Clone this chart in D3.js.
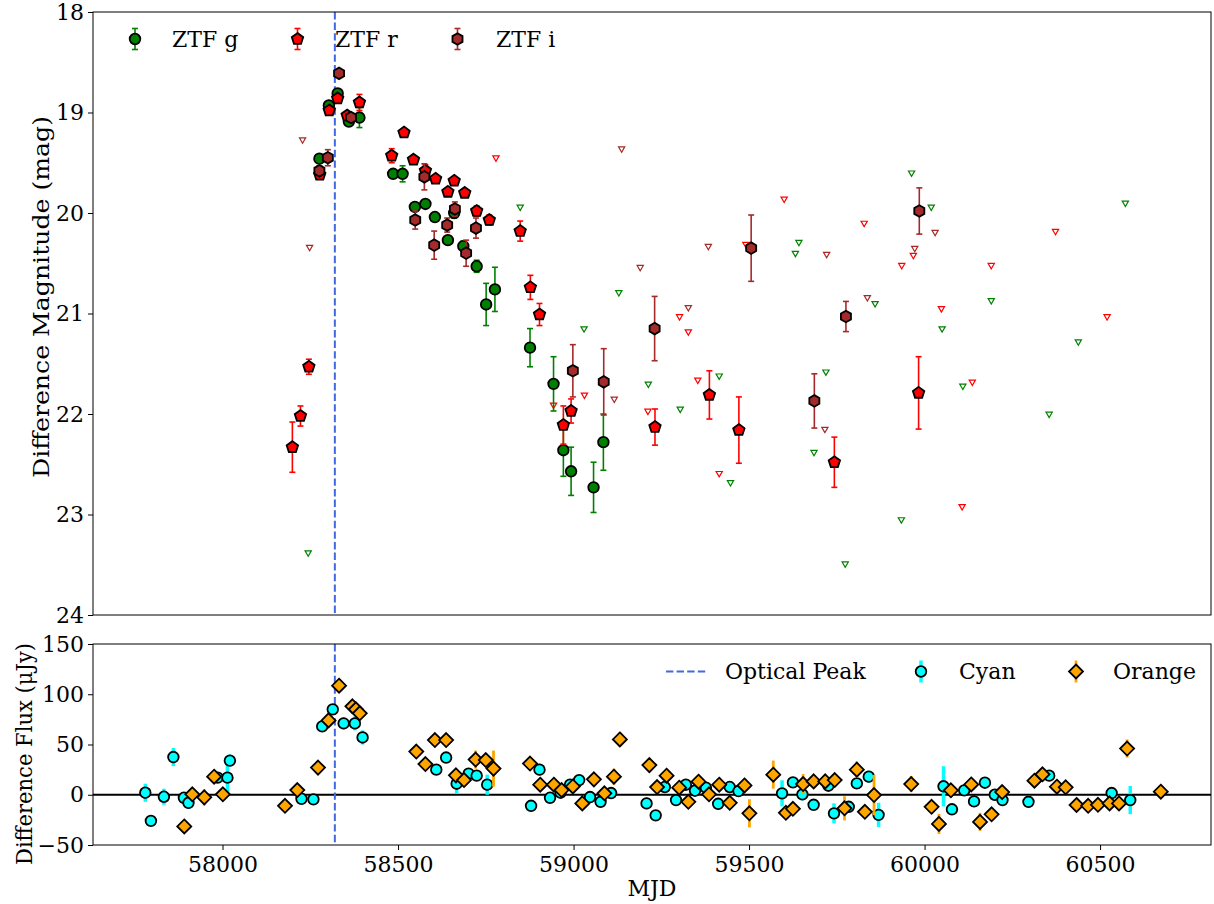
<!DOCTYPE html>
<html lang="en">
<head>
<meta charset="UTF-8">
<script src="https://d3js.org/d3.v7.min.js"></script>
<title>Light curve</title>
<style>
  body { margin: 0; background: #fff; }
  text { font-family: "DejaVu Serif", serif; fill: #000; }
</style>
</head>
<body>
<div id="vis"></div>
<script>
// ZTF detections: MJD, difference magnitude, error
var gMjd = [58276, 58303, 58328, 58360, 58390, 58486, 58513, 58548, 58578, 58605, 58642, 58660, 58686, 58724, 58751, 58776, 58876, 58943, 58971, 58993, 59057, 59085];
var gMag = [19.46, 18.93, 18.81, 19.09, 19.05, 19.61, 19.61, 19.94, 19.91, 20.04, 20.27, 20.00, 20.33, 20.53, 20.91, 20.76, 21.34, 21.70, 22.36, 22.57, 22.73, 22.28];
var gErr = [0.04, 0.03, 0.03, 0.04, 0.10, 0.04, 0.08, 0.04, 0.03, 0.04, 0.04, 0.05, 0.05, 0.06, 0.21, 0.22, 0.19, 0.27, 0.26, 0.24, 0.25, 0.28];

var rMjd = [58199, 58222, 58246, 58277, 58304, 58328, 58355, 58390, 58482, 58517, 58544, 58578, 58607, 58642, 58660, 58690, 58724, 58760, 58848, 58877, 58903, 58971, 58993, 59232, 59387, 59471, 59743, 59983];
var rMag = [22.33, 22.02, 21.53, 19.62, 18.98, 18.86, 19.03, 18.90, 19.43, 19.20, 19.47, 19.58, 19.66, 19.79, 19.68, 19.80, 19.98, 20.07, 20.18, 20.74, 21.01, 22.11, 21.97, 22.13, 21.81, 22.16, 22.48, 21.79];
var rErr = [0.25, 0.10, 0.075, 0.04, 0.03, 0.03, 0.03, 0.08, 0.07, 0.04, 0.03, 0.06, 0.03, 0.03, 0.03, 0.03, 0.05, 0.05, 0.10, 0.12, 0.11, 0.19, 0.12, 0.18, 0.24, 0.33, 0.25, 0.36];

var iMjd = [58276, 58300, 58332, 58366, 58549, 58575, 58603, 58640, 58662, 58694, 58722, 58998, 59086, 59231, 59506, 59686, 59776, 59985];
var iMag = [19.58, 19.45, 18.61, 19.05, 20.07, 19.64, 20.32, 20.12, 19.96, 20.40, 20.15, 21.57, 21.68, 21.15, 20.35, 21.87, 21.03, 19.98];
var iErr = [0.05, 0.08, 0.03, 0.03, 0.09, 0.13, 0.14, 0.07, 0.07, 0.13, 0.10, 0.26, 0.33, 0.32, 0.33, 0.27, 0.15, 0.23];

// upper limits (non detections)
var gLimMjd = [58244, 58848, 59030, 59129, 59213, 59304, 59415, 59447, 59632, 59642, 59685, 59719, 59774, 59859, 59934, 59963, 60019, 60050, 60109, 60190, 60355, 60438, 60572];
var gLim = [23.38, 19.94, 21.15, 20.79, 21.70, 21.95, 21.62, 22.68, 20.40, 20.29, 22.38, 21.58, 23.49, 20.90, 23.05, 19.60, 19.94, 21.15, 21.72, 20.87, 22.00, 21.28, 19.90];
var rLimMjd = [58779, 58943, 59031, 59212, 59302, 59327, 59354, 59415, 59491, 59600, 59828, 59935, 59968, 60048, 60107, 60136, 60190, 60373, 60520];
var rLim = [19.45, 21.91, 21.81, 21.97, 21.03, 21.18, 21.66, 22.59, 20.31, 19.86, 20.10, 20.52, 20.42, 20.95, 22.92, 21.68, 20.52, 20.18, 21.03];
var iLimMjd = [58228, 58248, 59116, 59137, 59190, 59327, 59384, 59716, 59721, 59837, 59972, 60030];
var iLim = [19.27, 20.34, 21.85, 19.36, 20.54, 20.94, 20.33, 22.15, 20.41, 20.84, 20.35, 20.19];

// forced photometry flux (uJy)
var cyanMjd = [57780, 57796, 57833, 57860, 57890, 57903, 57986, 58014, 58021, 58225, 58259, 58284, 58314, 58345, 58377, 58399, 58609, 58637, 58667, 58701, 58724, 58754, 58879, 58903, 58933, 58963, 58990, 59016, 59047, 59077, 59107, 59208, 59234, 59260, 59292, 59320, 59346, 59377, 59412, 59445, 59470, 59594, 59625, 59652, 59684, 59726, 59742, 59784, 59807, 59841, 59869, 60054, 60078, 60113, 60141, 60172, 60200, 60222, 60296, 60355, 60533, 60586];
var cyanFlux = [2, -26, -2, 37.5, -3, -8, 17, 17, 34, -4, -4.6, 68, 85, 71, 71, 57, 25, 37, 11, 21, 19, 10, -11, 25, -3, 2, 10, 14.6, -2.3, -7, 1.7, -8.6, -20.5, 7.7, -5.3, 10, 4, 7, -9, 7.7, 3.7, 1.4, 12.3, 0.4, -10, 9, -18.5, -12, 11.3, 18, -20, 8.4, -14.5, 4.4, -6.6, 12, 0, -5.3, -7, 19, 1.7, -5.3];
var cyanErr = [9, 3, 8, 9, 3, 6, 3, 15, 6, 3, 3, 4, 4, 6, 7, 7, 3, 3, 10, 3, 3, 10, 3, 6, 3, 3, 3, 3, 3, 3, 3, 6, 3, 3, 3, 3, 3, 3, 6, 3, 6, 13, 3, 6, 3, 3, 10, 3, 3, 6, 12, 20, 3, 3, 3, 3, 3, 6, 6, 3, 5, 14];

var orangeMjd = [57891, 57914, 57948, 57976, 58001, 58178, 58213, 58272, 58302, 58332, 58370, 58380, 58391, 58552, 58578, 58605, 58637, 58665, 58688, 58721, 58750, 58772, 58876, 58905, 58944, 58966, 58998, 59025, 59058, 59088, 59115, 59132, 59216, 59238, 59265, 59301, 59327, 59356, 59386, 59415, 59445, 59487, 59501, 59569, 59605, 59625, 59654, 59684, 59717, 59744, 59772, 59807, 59830, 59856, 59962, 60020, 60041, 60075, 60133, 60158, 60191, 60221, 60313, 60336, 60377, 60402, 60433, 60466, 60494, 60527, 60554, 60577, 60673];
var orangeFlux = [-31.5, 0.4, -2.6, 18, 0.4, -11, 4.7, 27, 74, 108.5, 88, 85, 81, 43, 30.5, 54.4, 54.4, 19.3, 14.6, 35, 34.5, 26, 31, 10, 10, 4.7, 8.3, -8.6, 15.3, 1.4, 18, 55, 29.5, 7.7, 19, 7, -7, 13, 0.4, 10, -8, 9.3, -18.5, 20, -18, -14, 10.6, 13.3, 13.3, 14.6, -13.5, 25, -17, -0.3, 10.6, -12, -29, 4.4, 10.3, -27, -19.5, 2.7, 14, 20.3, 8, 7.4, -10.2, -11, -10, -8.6, -8.6, 46, 3];
var orangeErr = [3, 5, 8, 3, 3, 3, 5, 3, 3, 3, 3, 3, 3, 7, 3, 3, 3, 3, 3, 9, 3, 18, 3, 3, 3, 3, 3, 3, 3, 3, 8, 7, 7, 3, 3, 3, 3, 3, 3, 3, 3, 7, 14, 14, 3, 3, 10, 3, 3, 3, 12, 8, 3, 20, 8, 3, 10, 3, 3, 9, 3, 7, 3, 3, 3, 3, 3, 3, 3, 3, 3, 9, 3];

var peakMjd = 58320;
var magTicks = [18, 19, 20, 21, 22, 23, 24];
var fluxTicks = [-50, 0, 50, 100, 150];
var mjdTicks = [58000, 58500, 59000, 59500, 60000, 60500];

var width = 1214, height = 904,
    left = 93, right = 1211,
    top1 = 12, bot1 = 615,
    top2 = 644, bot2 = 845,
    svg = d3.select("#vis").append("svg").attr("width", width).attr("height", height);

var x = d3.scaleLinear().domain([57631, 60816]).range([left, right]);
var yMag = d3.scaleLinear().domain([18, 24]).range([top1, bot1]);
var yFlux = d3.scaleLinear().domain([-50, 150]).range([bot2, top2]);

// marker shapes
function polygon(n, r, rot) {
    var pts = [];
    for (var k = 0; k < n; k++) {
        var a = rot + k * 2 * Math.PI / n;
        pts.push([r * Math.sin(a), -r * Math.cos(a)]);
    }
    return "M" + pts.map(function(p){ return p[0].toFixed(2) + "," + p[1].toFixed(2); }).join("L") + "Z";
}
var shapes = {
    circle: function(r){ return d3.symbol().type(d3.symbolCircle).size(Math.PI * r * r)(); },
    pentagon: function(r){ return polygon(5, r, 0); },
    hexagon: function(r){ return polygon(6, r, 0); },
    diamond: function(r){ return polygon(4, r, 0); },
    tri: function(r){ return polygon(3, r, Math.PI); }
};

function zip(a, b, c) {
    return a.map(function(d, i){ return {x: d, y: b[i], e: c ? c[i] : 0}; });
}

var gData = zip(gMjd, gMag, gErr), rData = zip(rMjd, rMag, rErr), iData = zip(iMjd, iMag, iErr);
var cyanData = zip(cyanMjd, cyanFlux, cyanErr), orangeData = zip(orangeMjd, orangeFlux, orangeErr);

// --- top panel ---
var magPanel = svg.append("g");

function limits(mjd, mag, color) {
    magPanel.append("g").selectAll("path").data(zip(mjd, mag)).enter().append("path")
        .attr("d", shapes.tri(3.6))
        .attr("transform", function(d){ return "translate(" + x(d.x) + "," + yMag(d.y) + ")"; })
        .style("fill", "white").style("stroke", color).style("stroke-width", 1.2);
}
limits(gLimMjd, gLim, "green");
limits(rLimMjd, rLim, "red");
limits(iLimMjd, iLim, "brown");

magPanel.append("line").attr("x1", x(peakMjd)).attr("x2", x(peakMjd)).attr("y1", top1).attr("y2", bot1)
    .style("stroke", "royalblue").style("stroke-width", 2).style("stroke-dasharray", "7.4,3.2");

function errSeries(g, data, yScale, color, shape, r, lw, cap) {
    var grp = g.append("g");
    var eg = grp.append("g").selectAll("g").data(data).enter().append("g")
        .style("stroke", color).style("stroke-width", lw);
    eg.append("line")
        .attr("x1", function(d){ return x(d.x); }).attr("x2", function(d){ return x(d.x); })
        .attr("y1", function(d){ return yScale(d.y - d.e); }).attr("y2", function(d){ return yScale(d.y + d.e); });
    if (cap) {
        [-1, 1].forEach(function(s){
            eg.append("line")
                .attr("x1", function(d){ return x(d.x) - cap; }).attr("x2", function(d){ return x(d.x) + cap; })
                .attr("y1", function(d){ return yScale(d.y + s * d.e); }).attr("y2", function(d){ return yScale(d.y + s * d.e); });
        });
    }
    grp.append("g").selectAll("path").data(data).enter().append("path")
        .attr("d", shapes[shape](r))
        .attr("transform", function(d){ return "translate(" + x(d.x) + "," + yScale(d.y) + ")"; })
        .style("fill", color).style("stroke", "black").style("stroke-width", 1.8);
}
errSeries(magPanel, gData, yMag, "green", "circle", 5.3, 1.6, 3);
errSeries(magPanel, rData, yMag, "red", "pentagon", 6, 1.6, 3);
errSeries(magPanel, iData, yMag, "brown", "hexagon", 5.8, 1.6, 3);

// --- bottom panel ---
var fluxPanel = svg.append("g");
fluxPanel.append("line").attr("x1", left).attr("x2", right).attr("y1", yFlux(0)).attr("y2", yFlux(0))
    .style("stroke", "black").style("stroke-width", 2);
fluxPanel.append("line").attr("x1", x(peakMjd)).attr("x2", x(peakMjd)).attr("y1", top2).attr("y2", bot2)
    .style("stroke", "royalblue").style("stroke-width", 2).style("stroke-dasharray", "7.4,3.2");
errSeries(fluxPanel, cyanData, yFlux, "cyan", "circle", 5.3, 3.5, 0);
errSeries(fluxPanel, orangeData, yFlux, "orange", "diamond", 7, 2.8, 0);

// --- axes ---
function frame(t, b) {
    svg.append("rect").attr("x", left).attr("y", t).attr("width", right - left).attr("height", b - t)
        .style("fill", "none").style("stroke", "black").style("stroke-width", 1);
}
frame(top1, bot1);
frame(top2, bot2);

function styleAxis(g) {
    g.select(".domain").remove();
    g.selectAll("text").style("font-family", "DejaVu Serif").style("font-size", "22px").style("fill", "black");
    g.selectAll("line").style("stroke", "black");
}
svg.append("g").attr("transform", "translate(" + left + ",0)")
    .call(d3.axisLeft(yMag).tickValues(magTicks).tickSize(5).tickPadding(4).tickFormat(d3.format("d")))
    .call(styleAxis);
svg.append("g").attr("transform", "translate(" + left + ",0)")
    .call(d3.axisLeft(yFlux).tickValues(fluxTicks).tickSize(5).tickPadding(4).tickFormat(function(d){ return d < 0 ? "\u2212" + (-d) : d; }))
    .call(styleAxis);
svg.append("g").attr("transform", "translate(0," + bot2 + ")")
    .call(d3.axisBottom(x).tickValues(mjdTicks).tickSize(5).tickPadding(6).tickFormat(d3.format("d")))
    .call(styleAxis);

svg.append("text").attr("transform", "translate(49,297) rotate(-90)")
    .attr("text-anchor", "middle").attr("textLength", 362).attr("lengthAdjust", "spacingAndGlyphs")
    .style("font-size", "23px").text("Difference Magnitude (mag)");
svg.append("text").attr("transform", "translate(32,754) rotate(-90)")
    .attr("text-anchor", "middle").attr("textLength", 222).attr("lengthAdjust", "spacingAndGlyphs")
    .style("font-size", "23px").text("Difference Flux (\u03bcJy)");
svg.append("text").attr("x", (left + right) / 2).attr("y", 896)
    .attr("text-anchor", "middle").style("font-size", "22px").text("MJD");

// --- legends ---
function legendMarker(cx, cy, color, shape, r, lw, cap, half) {
    var g = svg.append("g").style("stroke", color).style("stroke-width", lw);
    g.append("line").attr("x1", cx).attr("x2", cx).attr("y1", cy - half).attr("y2", cy + half);
    if (cap) {
        g.append("line").attr("x1", cx - cap).attr("x2", cx + cap).attr("y1", cy - half).attr("y2", cy - half);
        g.append("line").attr("x1", cx - cap).attr("x2", cx + cap).attr("y1", cy + half).attr("y2", cy + half);
    }
    svg.append("path").attr("d", shapes[shape](r)).attr("transform", "translate(" + cx + "," + cy + ")")
        .style("fill", color).style("stroke", "black").style("stroke-width", 1.8);
}
var topLegend = [
    {label: "ZTF g", color: "green", shape: "circle", r: 5.3, mx: 135, tx: 172},
    {label: "ZTF r", color: "red", shape: "pentagon", r: 6, mx: 297.5, tx: 335},
    {label: "ZTF i", color: "brown", shape: "hexagon", r: 5.8, mx: 457.5, tx: 496}
];
topLegend.forEach(function(d){
    legendMarker(d.mx, 39, d.color, d.shape, d.r, 1.6, 3, 10.5);
    svg.append("text").attr("x", d.tx).attr("y", 47).style("font-size", "22px").text(d.label);
});

svg.append("line").attr("x1", 666).attr("x2", 708).attr("y1", 671.5).attr("y2", 671.5)
    .style("stroke", "royalblue").style("stroke-width", 2).style("stroke-dasharray", "7.4,3.2");
svg.append("text").attr("x", 725).attr("y", 679).style("font-size", "22px").text("Optical Peak");
legendMarker(921, 671.5, "cyan", "circle", 5.3, 3.5, 0, 11);
svg.append("text").attr("x", 959).attr("y", 679).style("font-size", "22px").text("Cyan");
legendMarker(1076, 671.5, "orange", "diamond", 7, 2.8, 0, 11);
svg.append("text").attr("x", 1113).attr("y", 679).style("font-size", "22px").text("Orange");
</script>
</body>
</html>
